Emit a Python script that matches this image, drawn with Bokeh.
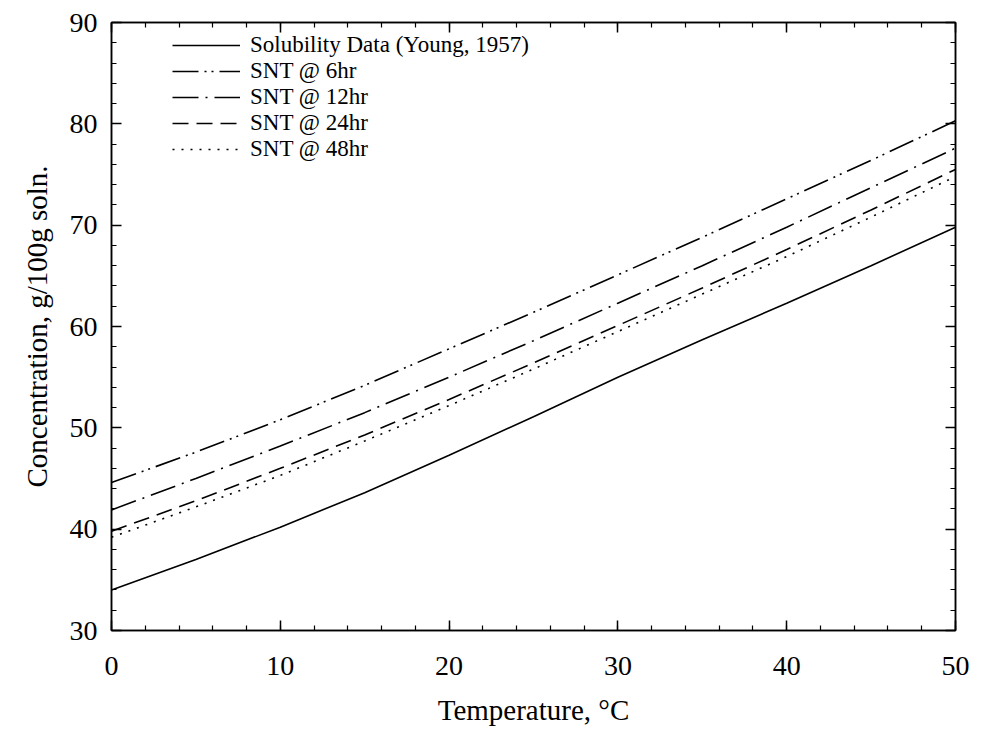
from bokeh.plotting import figure
from bokeh.models import (Legend, LegendItem, LinearAxis, Range1d, SingleIntervalTicker,
                          CustomLabelingPolicy)
from bokeh.embed import file_html
from bokeh.resources import INLINE

temperature = [0, 5, 10, 15, 20, 25, 30, 35, 40, 45, 50]
solubility_young = [34.0, 37.0, 40.2, 43.6, 47.3, 51.1, 55.0, 58.7, 62.3, 66.0, 69.8]
snt_6hr = [44.6, 47.6, 50.8, 54.2, 57.8, 61.4, 65.1, 68.8, 72.6, 76.4, 80.3]
snt_12hr = [41.9, 45.0, 48.2, 51.5, 55.0, 58.6, 62.3, 66.0, 69.8, 73.7, 77.6]
snt_24hr = [39.8, 42.8, 46.0, 49.3, 52.8, 56.4, 60.1, 63.8, 67.6, 71.5, 75.5]
snt_48hr = [39.2, 42.2, 45.3, 48.7, 52.2, 55.8, 59.5, 63.2, 66.9, 70.8, 74.8]

series_labels = ["Solubility Data (Young, 1957)", "SNT @ 6hr", "SNT @ 12hr", "SNT @ 24hr", "SNT @ 48hr"]
x_ticks = [0, 10, 20, 30, 40, 50]
y_ticks = [30, 40, 50, 60, 70, 80, 90]

FONT = "Liberation Serif"

p = figure(width=985, height=735, output_backend="svg", toolbar_location=None,
           x_range=Range1d(0, 50), y_range=Range1d(30, 90),
           min_border_left=111, min_border_right=30, min_border_top=22, min_border_bottom=105)
p.xaxis.visible = False
p.yaxis.visible = False
p.grid.visible = False
p.outline_line_color = "black"
p.outline_line_width = 1.5
p.background_fill_color = "white"
p.border_fill_color = "white"

hide_labels = CustomLabelingPolicy(code="""
try { for (const i of Array.from(indices)) { indices.unset(i) } } catch (e) {}
return indices
""")

def style_axis(ax, show_labels):
    ax.ticker = SingleIntervalTicker(interval=10, num_minor_ticks=5)
    ax.major_tick_in = 10
    ax.major_tick_out = 0
    ax.minor_tick_in = 5
    ax.minor_tick_out = 0
    ax.axis_line_color = "black"
    ax.axis_line_width = 1.5
    ax.major_tick_line_width = 1.5
    ax.minor_tick_line_width = 1.2
    if show_labels:
        ax.major_label_text_font = FONT
        ax.major_label_text_font_size = "28px"
        ax.major_label_text_color = "black"
        ax.axis_label_text_font = FONT
        ax.axis_label_text_font_size = "29px"
        ax.axis_label_text_font_style = "normal"
        ax.axis_label_text_color = "black"
    else:
        ax.major_label_text_font_size = "0px"
        ax.major_label_standoff = 0
        ax.major_label_policy = hide_labels

xb = LinearAxis(axis_label="Temperature, °C")
style_axis(xb, True)
xb.major_label_standoff = 26
xb.axis_label_standoff = 16
p.add_layout(xb, "below")

yl = LinearAxis(axis_label="Concentration, g/100g soln.")
style_axis(yl, True)
yl.major_label_standoff = 14
yl.axis_label_standoff = 14
p.add_layout(yl, "left")

xt = LinearAxis()
style_axis(xt, False)
p.add_layout(xt, "above")
yr = LinearAxis()
style_axis(yr, False)
p.add_layout(yr, "right")

ys = [solubility_young, snt_6hr, snt_12hr, snt_24hr, snt_48hr]
dashes = ["solid", "26 6 2 5 2 6", "26 7 2 7", "16 8", "2 7"]
renderers = []
for yv, d in zip(ys, dashes):
    r = p.line(temperature, yv, line_color="black", line_width=1.6, line_dash=d)
    renderers.append(r)

legend = Legend(items=[LegendItem(label=l, renderers=[r]) for l, r in zip(series_labels, renderers)],
                location=(61, 468))
legend.border_line_color = None
legend.background_fill_alpha = 0
legend.label_text_font = FONT
legend.label_text_font_size = "23px"
legend.label_text_color = "black"
legend.glyph_width = 68
legend.glyph_height = 24
legend.label_height = 24
legend.spacing = 0
legend.padding = 0
legend.label_standoff = 10
p.add_layout(legend, "center")

open("out.html", "w").write(file_html(p, INLINE))
